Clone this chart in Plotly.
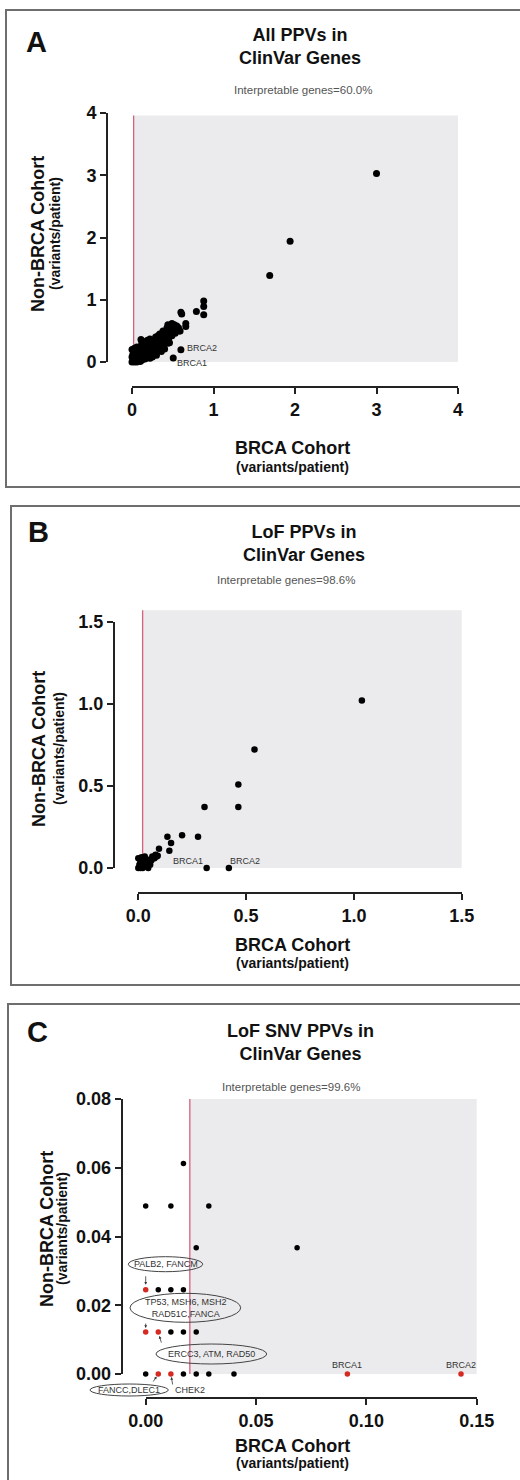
import plotly.graph_objects as go

W, H = 520, 1480
FONT = "Liberation Sans, Arial, Helvetica, sans-serif"

# ---------------- data ----------------
# Panel A : All PPVs in ClinVar genes (variants/patient)
a_x = [0.0, 0.01, 0.02, 0.0, 0.01, 0.02, 0.0, 0.03, 0.04, 0.05, 0.06, 0.08, 0.10, 0.12,
       0.07, 0.05, 0.08, 0.06, 0.09, 0.11, 0.12, 0.11, 0.13, 0.14, 0.16, 0.15, 0.17, 0.18,
       0.16, 0.20, 0.22, 0.21, 0.23, 0.24, 0.22, 0.26, 0.27, 0.28, 0.27, 0.29, 0.30, 0.31,
       0.32, 0.33, 0.32, 0.34, 0.35, 0.36, 0.37, 0.38, 0.36, 0.39, 0.40, 0.41, 0.42, 0.43,
       0.44, 0.45, 0.46, 0.47, 0.48, 0.46, 0.49, 0.50, 0.51, 0.52, 0.53, 0.54, 0.55, 0.57,
       0.58, 0.59, 0.40, 0.25, 0.14, 0.19, 0.30, 0.38, 0.44, 0.49, 0.03, 0.02, 0.09, 0.18,
       0.60, 0.61, 0.66, 0.66, 0.79, 0.88, 0.88, 0.88, 1.69, 1.94, 3.00]
a_y = [0.0, 0.02, 0.05, 0.08, 0.12, 0.16, 0.20, 0.22, 0.10, 0.03, 0.00, 0.02, 0.01, 0.03,
       0.08, 0.15, 0.20, 0.24, 0.13, 0.18, 0.30, 0.36, 0.26, 0.08, 0.05, 0.15, 0.21, 0.28,
       0.33, 0.10, 0.06, 0.17, 0.24, 0.31, 0.37, 0.14, 0.20, 0.28, 0.35, 0.40, 0.11, 0.18,
       0.25, 0.32, 0.42, 0.45, 0.22, 0.29, 0.37, 0.44, 0.17, 0.27, 0.34, 0.40, 0.48, 0.55,
       0.30, 0.37, 0.45, 0.52, 0.58, 0.31, 0.42, 0.50, 0.56, 0.60, 0.46, 0.53, 0.58, 0.55,
       0.50, 0.50, 0.21, 0.08, 0.12, 0.35, 0.33, 0.50, 0.60, 0.62, 0.0, 0.01, 0.05, 0.10,
       0.80, 0.77, 0.62, 0.57, 0.81, 0.98, 0.89, 0.76, 1.39, 1.94, 3.03]
a_gene_x = [0.506, 0.60]
a_gene_y = [0.064, 0.197]
a_gene_names = ["BRCA1", "BRCA2"]

# Panel B : LoF PPVs in ClinVar genes
b_x = [0.0, 0.005, 0.01, 0.0, 0.015, 0.02, 0.025, 0.03, 0.035, 0.04, 0.03, 0.02, 0.01,
       0.045, 0.055, 0.06, 0.065, 0.075, 0.08, 0.09, 0.046, 0.054, 0.07, 0.085, 0.096,
       0.144, 0.152, 0.135, 0.203, 0.277, 0.307, 0.464, 0.464, 0.539, 1.037]
b_y = [0.0, 0.02, 0.04, 0.06, 0.065, 0.0, 0.03, 0.05, 0.01, 0.03, 0.07, 0.045, 0.0,
       0.05, 0.02, 0.045, 0.07, 0.06, 0.08, 0.075, 0.0, 0.04, 0.06, 0.07, 0.117,
       0.105, 0.153, 0.19, 0.20, 0.19, 0.371, 0.371, 0.508, 0.722, 1.02]
b_gene_x = [0.317, 0.42]
b_gene_y = [0.0, 0.0]
b_gene_names = ["BRCA1", "BRCA2"]

# Panel C : LoF SNV PPVs in ClinVar genes
c_x = [0.0, 0.0171, 0.0229, 0.0286, 0.0400, 0.0114, 0.0171, 0.0229, 0.0057, 0.0114,
       0.0171, 0.0229, 0.0686, 0.0, 0.0114, 0.0286, 0.0171]
c_y = [0.0, 0.0, 0.0, 0.0, 0.0, 0.0122, 0.0122, 0.0122, 0.0245, 0.0245,
       0.0245, 0.0367, 0.0367, 0.0489, 0.0489, 0.0489, 0.0612]
c_gene_x = [0.0, 0.0, 0.0057, 0.0057, 0.0114, 0.0914, 0.1429]
c_gene_y = [0.0245, 0.0122, 0.0122, 0.0, 0.0, 0.0, 0.0]
c_gene_names = ["PALB2, FANCM", "TP53, MSH6, MSH2<br>RAD51C,FANCA", "ERCC3, ATM, RAD50",
                "FANCC,DLEC1", "CHEK2", "BRCA1", "BRCA2"]

threshold = 0.02
a_ticks = [0, 1, 2, 3, 4]
b_ticks = [0.0, 0.5, 1.0, 1.5]
c_xticks = [0.00, 0.05, 0.10, 0.15]
c_yticks = [0.00, 0.02, 0.04, 0.06, 0.08]

panel_letters = ["A", "B", "C"]
titles = ["All PPVs in<br>ClinVar Genes", "LoF PPVs in<br>ClinVar Genes",
          "LoF SNV PPVs in<br>ClinVar Genes"]
subtitles = ["Interpretable genes=60.0%", "Interpretable genes=98.6%", "Interpretable genes=99.6%"]


def px(p):
    return p / W


def py(p):
    return 1 - p / H


fig = go.Figure()

AX = dict(showline=True, linecolor="#222", linewidth=2, ticks="outside", ticklen=6,
          tickwidth=2, tickcolor="#222", showgrid=False, zeroline=False, automargin=False,
          tickfont=dict(family=FONT, size=18, color="#111", weight="bold"), anchor="free")

# geometry in pixels
geo = [
    dict(x0=132, x1=458, yb=362, yt=113, xl=387, yl=107,
         xr=[0, 4], yr=[0, 4], xt=a_ticks, yt_=a_ticks, fmt=None, shade_top=3.96 / 4),
    dict(x0=138.3, x1=461.7, yb=868, yt=621.7, xl=893, yl=114,
         xr=[0, 1.5], yr=[0, 1.5], xt=b_ticks, yt_=b_ticks, fmt=".1f", shade_top=1.57 / 1.5),
    dict(x0=145.7, x1=476.7, yb=1374, yt=1099, xl=1398, yl=121.7,
         xr=[0, 0.15], yr=[0, 0.08], xt=c_xticks, yt_=c_yticks, fmt=".2f", shade_top=1.0),
]

for i, g in enumerate(geo):
    sfx = "" if i == 0 else str(i + 1)
    xa = dict(AX, domain=[px(g["x0"]), px(g["x1"])], range=g["xr"], position=py(g["xl"]),
              tickvals=g["xt"])
    ya = dict(AX, domain=[py(g["yb"]), py(g["yt"])], range=g["yr"], position=px(g["yl"]),
              tickvals=g["yt_"])
    if g["fmt"]:
        xa["tickformat"] = g["fmt"]
        ya["tickformat"] = g["fmt"]
    fig.update_layout(**{"xaxis" + sfx: xa, "yaxis" + sfx: ya})
    xa_id = "x" + sfx
    ya_id = "y" + sfx
    fx = threshold / g["xr"][1]
    fig.add_shape(type="rect", xref=xa_id + " domain", yref=ya_id + " domain",
                  x0=fx, x1=1, y0=0, y1=g["shade_top"], fillcolor="#ebebed",
                  line=dict(width=0), layer="below")
    fig.add_shape(type="line", xref=xa_id + " domain", yref=ya_id + " domain",
                  x0=fx, x1=fx, y0=0, y1=g["shade_top"],
                  line=dict(color="#d8607c", width=1.3), layer="below")

# traces
fig.add_trace(go.Scatter(x=a_x + a_gene_x, y=a_y + a_gene_y, mode="markers", xaxis="x", yaxis="y",
                         marker=dict(color="black", size=7), cliponaxis=False))
fig.add_trace(go.Scatter(x=b_x + b_gene_x, y=b_y + b_gene_y, mode="markers", xaxis="x2", yaxis="y2",
                         marker=dict(color="black", size=6.5), cliponaxis=False))
fig.add_trace(go.Scatter(x=c_x, y=c_y, mode="markers", xaxis="x3", yaxis="y3",
                         marker=dict(color="black", size=5.5), cliponaxis=False))
fig.add_trace(go.Scatter(x=c_gene_x, y=c_gene_y, mode="markers", xaxis="x3", yaxis="y3",
                         marker=dict(color="#d42a22", size=5.5), cliponaxis=False))

ann = []
LBL = dict(family=FONT, size=9, color="#333")

ann.append(dict(x=a_gene_x[0], y=a_gene_y[0], xref="x", yref="y", text=a_gene_names[0],
                showarrow=False, xanchor="left", xshift=2, yshift=-5, font=LBL))
ann.append(dict(x=a_gene_x[1], y=a_gene_y[1], xref="x", yref="y", text=a_gene_names[1],
                showarrow=False, xanchor="left", xshift=4, yshift=2, font=LBL))
ann.append(dict(x=b_gene_x[0], y=b_gene_y[0], xref="x2", yref="y2", text=b_gene_names[0],
                showarrow=False, xanchor="right", xshift=-2, yshift=7, font=LBL))
ann.append(dict(x=b_gene_x[1], y=b_gene_y[1], xref="x2", yref="y2", text=b_gene_names[1],
                showarrow=False, xanchor="left", xshift=-1, yshift=7, font=LBL))
for k in (5, 6):
    ann.append(dict(x=c_gene_x[k], y=c_gene_y[k], xref="x3", yref="y3", text=c_gene_names[k],
                    showarrow=False, xanchor="center", yshift=9, font=LBL))

# panel C ellipse labels: (label index, centre px, ellipse box px)
ell = [
    (0, (165.5, 1264), (128.3, 202.7, 1256.7, 1271.7)),
    (1, (185.5, 1308), (130, 240.7, 1293.3, 1322.3)),
    (2, (211, 1354), (156, 266.7, 1344, 1364)),
    (3, (129, 1390), (90, 168.3, 1384, 1396)),
]
for k, (cx, cy), (ex0, ex1, ey0, ey1) in ell:
    fig.add_shape(type="circle", xref="paper", yref="paper", x0=px(ex0), x1=px(ex1),
                  y0=py(ey1), y1=py(ey0), line=dict(color="#444", width=1),
                  fillcolor="rgba(255,255,255,0)")
    ann.append(dict(x=px(cx), y=py(cy), xref="paper", yref="paper", text=c_gene_names[k],
                    showarrow=False, xanchor="center", yanchor="middle",
                    font=dict(family=FONT, size=9, color="#333")))
ann.append(dict(x=px(189.5), y=py(1390), xref="paper", yref="paper", text=c_gene_names[4],
                showarrow=False, xanchor="center", yanchor="middle", font=LBL))

arrows = [(0, 0, -15, 5), (1, 0, -10, 4), (2, 3.5, 12, 4), (3, -6, 9, 3), (4, 2, 12, 3)]
for k, axo, ayo, so in arrows:
    ann.append(dict(x=c_gene_x[k], y=c_gene_y[k], xref="x3", yref="y3", text="",
                    showarrow=True, ax=axo, ay=ayo, standoff=so, arrowhead=2,
                    arrowsize=0.7, arrowwidth=0.8, arrowcolor="#333"))

letter_pos = [(36.5, 42), (38, 532), (37, 1032)]
title_pos = [(300, 47), (304, 543), (300, 1042)]
sub_pos = [(303, 90), (286, 580), (291, 1087)]
xtitle_pos = [(292.5, 448, 467), (292.5, 945, 963), (292.5, 1446, 1463)]
ytitle_pos = [(38, 55, 234), (39, 59, 749), (47, 62, 1229)]
boxes = [(6, 10, 487), (11, 506, 985), (8, 1004, 1500)]

for i in range(3):
    lx, ly = letter_pos[i]
    ann.append(dict(x=px(lx), y=py(ly), xref="paper", yref="paper", text=panel_letters[i],
                    showarrow=False, xanchor="center", yanchor="middle",
                    font=dict(family=FONT, size=29, color="#111", weight="bold")))
    tx, ty = title_pos[i]
    ann.append(dict(x=px(tx), y=py(ty), xref="paper", yref="paper", text=titles[i],
                    showarrow=False, xanchor="center", yanchor="middle",
                    font=dict(family=FONT, size=18, color="#111", weight="bold")))
    sx, sy = sub_pos[i]
    ann.append(dict(x=px(sx), y=py(sy), xref="paper", yref="paper", text=subtitles[i],
                    showarrow=False, xanchor="center", yanchor="middle",
                    font=dict(family=FONT, size=11.5, color="#555")))
    tx, ty1, ty2 = xtitle_pos[i]
    ann.append(dict(x=px(tx), y=py(ty1), xref="paper", yref="paper", text="BRCA Cohort",
                    showarrow=False, xanchor="center", yanchor="middle",
                    font=dict(family=FONT, size=18, color="#111", weight="bold")))
    ann.append(dict(x=px(tx), y=py(ty2), xref="paper", yref="paper", text="(variants/patient)",
                    showarrow=False, xanchor="center", yanchor="middle",
                    font=dict(family=FONT, size=14, color="#111", weight="bold")))
    yx1, yx2, yy = ytitle_pos[i]
    ann.append(dict(x=px(yx1), y=py(yy), xref="paper", yref="paper", text="Non-BRCA Cohort",
                    showarrow=False, xanchor="center", yanchor="middle", textangle=-90,
                    font=dict(family=FONT, size=18, color="#111", weight="bold")))
    ann.append(dict(x=px(yx2), y=py(yy), xref="paper", yref="paper", text="(variants/patient)",
                    showarrow=False, xanchor="center", yanchor="middle", textangle=-90,
                    font=dict(family=FONT, size=14, color="#111", weight="bold")))
    bx, bt, bb = boxes[i]
    fig.add_shape(type="rect", xref="paper", yref="paper", x0=px(bx), x1=px(540),
                  y0=py(bb), y1=py(bt), line=dict(color="#6e6e6e", width=2),
                  fillcolor="rgba(0,0,0,0)")

fig.update_layout(width=W, height=H,
                  margin=dict(l=0, r=0, t=0, b=0, pad=0, autoexpand=False),
                  paper_bgcolor="white", plot_bgcolor="white", showlegend=False,
                  hovermode=False, annotations=ann)

fig.write_html("out.html", config={"displayModeBar": False, "staticPlot": True},
               post_script="document.body.style.margin='0px';document.body.style.padding='0px';")
